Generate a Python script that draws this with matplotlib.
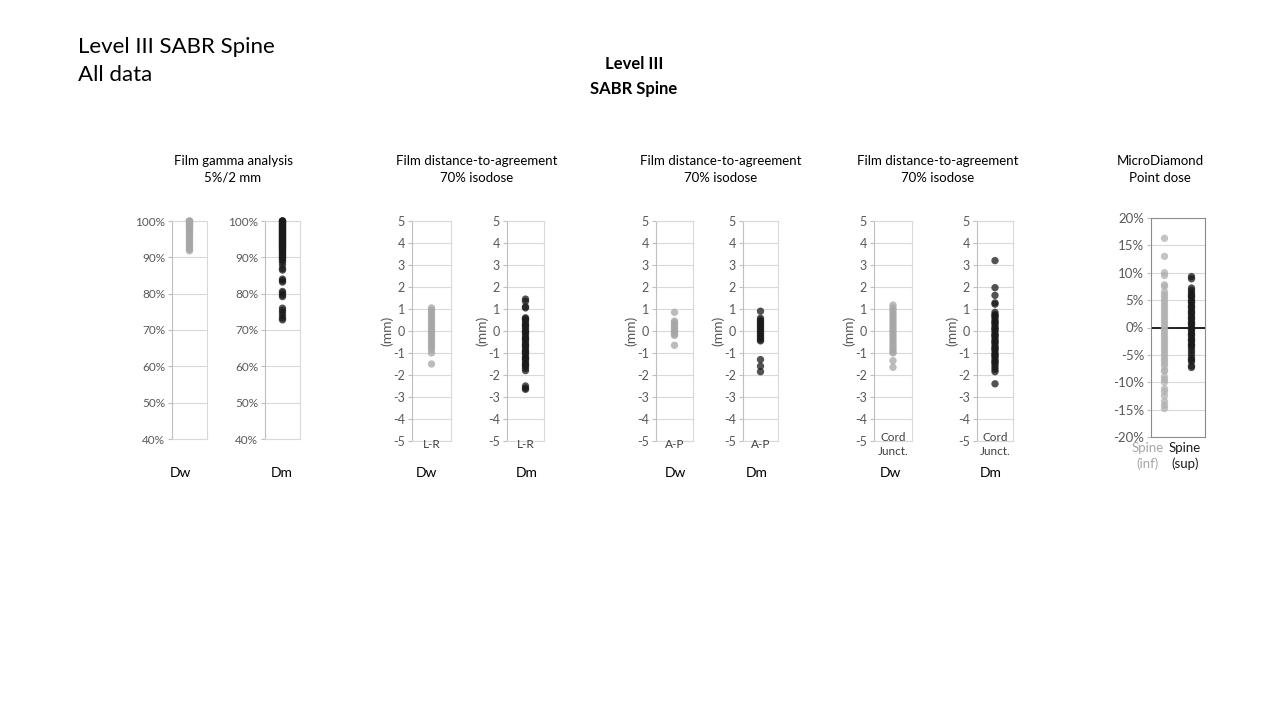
import matplotlib.pyplot as plt
from matplotlib.ticker import PercentFormatter

plt.rcParams['font.family'] = ['Lato', 'DejaVu Sans']
plt.rcParams['axes.unicode_minus'] = False

# gamma pass rate (%)
gamma_dw = [100.0, 100.0, 99.9, 99.7, 99.5, 99.3, 99.0, 98.8, 98.5, 98.2, 98.0, 97.6, 97.2,
            96.8, 96.4, 96.0, 95.5, 95.0, 94.5, 94.0, 93.6, 93.0, 92.6, 92.2, 91.8]
gamma_dm = [100.0, 100.0, 100.0, 99.8, 99.6, 99.4, 99.2, 99.0, 98.8, 98.6, 98.4, 98.2, 98.0,
            97.8, 97.6, 97.4, 97.2, 97.0, 96.8, 96.6, 96.4, 96.2, 96.0, 95.8, 95.6, 95.4,
            95.2, 95.0, 94.8, 94.6, 94.4, 94.2, 94.0, 93.8, 93.6, 93.4, 93.2, 93.0, 92.8,
            92.6, 92.4, 92.2, 92.0, 91.7, 91.4, 91.1, 90.8, 90.5, 90.2, 89.9, 89.6, 89.2,
            88.7, 87.9, 86.9, 86.5, 84.0, 83.6, 83.2, 80.6, 80.2, 79.6, 79.2, 76.0, 75.4,
            74.8, 74.0, 73.3, 72.8]

# distance-to-agreement (mm)
lr_dw = [1.05, 0.95, 0.85, 0.75, 0.65, 0.55, 0.45, 0.35, 0.25, 0.15, 0.05, -0.05, -0.15,
         -0.25, -0.35, -0.45, -0.55, -0.65, -0.75, -0.85, -1.0, -1.5]
lr_dm = [1.45, 1.35, 1.1, 1.05, 0.6, 0.5, 0.4, 0.3, 0.2, 0.1, 0.0, -0.1, -0.2, -0.3, -0.4,
         -0.5, -0.6, -0.7, -0.8, -0.9, -1.0, -1.1, -1.2, -1.3, -1.4, -1.5, -1.6, -1.7, -1.8,
         0.55, 0.25, -0.05, -0.35, -0.65, -0.95, -1.25, -1.55, -2.5, -2.6, -2.65]
ap_dw = [0.85, 0.45, 0.38, 0.3, 0.22, 0.15, 0.08, 0.0, -0.08, -0.15, -0.2, -0.65]
ap_dm = [0.9, 0.58, 0.5, 0.42, 0.35, 0.28, 0.2, 0.12, 0.05, -0.02, -0.1, -0.18, -0.25,
         -0.32, -0.4, -0.45, -1.3, -1.6, -1.85]
cord_dw = [1.18, 1.05, 0.95, 0.85, 0.75, 0.65, 0.55, 0.45, 0.35, 0.25, 0.15, 0.05, -0.05,
           -0.15, -0.25, -0.35, -0.45, -0.55, -0.65, -0.75, -0.85, -0.95, -1.0, -1.35, -1.65]
cord_dm = [3.2, 1.97, 1.62, 1.28, 1.22, 0.85, 0.75, 0.65, 0.55, 0.45, 0.35, 0.25, 0.15,
           0.05, -0.05, -0.15, -0.25, -0.35, -0.45, -0.55, -0.65, -0.75, -0.85, -0.95,
           -1.05, -1.15, -1.25, -1.35, -1.45, -1.55, -1.65, -1.75, -1.85, 0.7, 0.4, 0.1,
           -0.2, -0.5, -0.8, -1.1, -1.4, -2.4]

# MicroDiamond point dose difference (%)
md_inf = [16.3, 13.0, 10.0, 9.5, 7.8, 7.5, 6.5, 6.0, 5.5, 5.0, 4.5, 4.0, 3.5, 3.0, 2.5, 2.0,
          1.5, 1.0, 0.5, 0.0, -0.5, -1.0, -1.5, -2.0, -2.5, -3.0, -3.5, -4.0, -4.5, -5.0,
          -5.5, -6.0, -6.5, -7.0, -7.8, -8.0, -9.0, -9.5, -10.0, -11.2, -11.7, -12.5,
          -13.5, -14.2, -14.8]
md_sup = [9.3, 8.9, 7.2, 6.8, 6.4, 6.0, 5.5, 5.0, 4.5, 4.0, 3.5, 3.0, 2.5, 2.0, 1.5, 1.0,
          0.5, 0.0, -0.5, -1.0, -1.5, -2.0, -2.5, -3.0, -3.5, -4.0, -4.5, 5.75, 4.75, 3.75,
          2.75, 1.75, 0.75, -0.25, -1.25, -2.25, -3.25, -5.0, -5.6, -5.9, -6.2, -7.0, -7.3]

dw_col = '#a6a6a6'
dm_col = '#1a1a1a'
grid_col = '#d9d9d9'
tick_col = '#595959'

fig = plt.figure(figsize=(12.8, 7.2), dpi=100)
W, H = 1280, 720


def add_ax(x0, x1, y0, y1):
    return fig.add_axes([x0 / W, 1 - y1 / H, (x1 - x0) / W, (y1 - y0) / H])


def style(ax, size=8.5):
    ax.grid(axis='y', color=grid_col, lw=0.8)
    ax.set_axisbelow(True)
    for s in ax.spines.values():
        s.set_color(grid_col)
        s.set_linewidth(0.8)
    ax.spines['left'].set_color('#bfbfbf')
    ax.tick_params(axis='y', labelsize=size, colors='#bfbfbf', labelcolor=tick_col,
                   length=3, width=0.8, pad=2)
    ax.set_xticks([])


def strip(ax, vals, col):
    ax.scatter([1] * len(vals), vals, s=28, color=col, alpha=0.75, edgecolors='none',
               zorder=3, clip_on=False)
    ax.set_xlim(0.5, 1.5)


# gamma panels
for (x0, x1), vals, col in [((172, 207), gamma_dw, dw_col), ((265, 300), gamma_dm, dm_col)]:
    ax = add_ax(x0, x1, 221, 439)
    strip(ax, vals, col)
    ax.set_ylim(40, 100)
    ax.set_yticks(range(40, 101, 10))
    ax.yaxis.set_major_formatter(PercentFormatter(decimals=0))
    style(ax)

# DTA panels
dta = [((412, 451), lr_dw, dw_col, 'L-R'), ((507, 544), lr_dm, dm_col, 'L-R'),
       ((656, 693), ap_dw, dw_col, 'A-P'), ((743, 778), ap_dm, dm_col, 'A-P'),
       ((874, 912), cord_dw, dw_col, 'Cord\nJunct.'), ((977, 1013), cord_dm, dm_col, 'Cord\nJunct.')]
for (x0, x1), vals, col, lab in dta:
    ax = add_ax(x0, x1, 221, 441)
    strip(ax, vals, col)
    ax.set_ylim(-5, 5)
    ax.set_yticks(range(-5, 6))
    style(ax, 9)
    ax.set_ylabel('(mm)', fontsize=10, color=tick_col, labelpad=0)
    ax.text(0.5, -0.015, lab, transform=ax.transAxes, ha='center', va='center',
            fontsize=8.5, color='#404040', linespacing=1.35)

# MicroDiamond panel
ax = add_ax(1151, 1205, 218, 437)
ax.scatter([1] * len(md_inf), md_inf, s=28, color='#b0b0b0', alpha=0.75,
           edgecolors='none', zorder=3)
ax.scatter([2] * len(md_sup), md_sup, s=28, color=dm_col, alpha=0.75,
           edgecolors='none', zorder=3)
ax.set_xlim(0.5, 2.5)
ax.set_ylim(-20, 20)
ax.set_yticks(range(-20, 21, 5))
ax.yaxis.set_major_formatter(PercentFormatter(decimals=0))
style(ax, 9.5)
for s in ax.spines.values():
    s.set_color('#8c8c8c')
ax.axhline(0, color='black', lw=1.2, zorder=2)
fig.text(1164 / W, 1 - 456 / H, 'Spine\n(inf)', ha='right', va='center', fontsize=9.5,
         color='#a6a6a6', linespacing=1.3, multialignment='center')
fig.text(1169 / W, 1 - 456 / H, 'Spine\n(sup)', ha='left', va='center', fontsize=9.5,
         color='#1a1a1a', linespacing=1.3, multialignment='center')

# panel titles
titles = [(233, 'Film gamma analysis', '5%/2 mm'),
          (477, 'Film distance-to-agreement', '70% isodose'),
          (721, 'Film distance-to-agreement', '70% isodose'),
          (938, 'Film distance-to-agreement', '70% isodose'),
          (1160, 'MicroDiamond', 'Point dose')]
for x, t1, t2 in titles:
    fig.text(x / W, 1 - 161 / H, t1, ha='center', va='center', fontsize=9.5)
    fig.text(x / W, 1 - 178 / H, t2, ha='center', va='center', fontsize=9.5)

# Dw / Dm labels
for x, lab in [(180, 'Dw'), (282, 'Dm'), (426, 'Dw'), (527, 'Dm'), (675, 'Dw'),
               (757, 'Dm'), (890, 'Dw'), (991, 'Dm')]:
    fig.text(x / W, 1 - 473 / H, lab, ha='center', va='center', fontsize=10)

fig.text(78 / W, 1 - 47 / H, 'Level III SABR Spine', ha='left', va='center', fontsize=16)
fig.text(78 / W, 1 - 75 / H, 'All data', ha='left', va='center', fontsize=16)
fig.text(634 / W, 1 - 64 / H, 'Level III', ha='center', va='center', fontsize=12,
         fontweight='bold')
fig.text(634 / W, 1 - 89 / H, 'SABR Spine', ha='center', va='center', fontsize=12,
         fontweight='bold')

fig.savefig('out.png', dpi=100)
